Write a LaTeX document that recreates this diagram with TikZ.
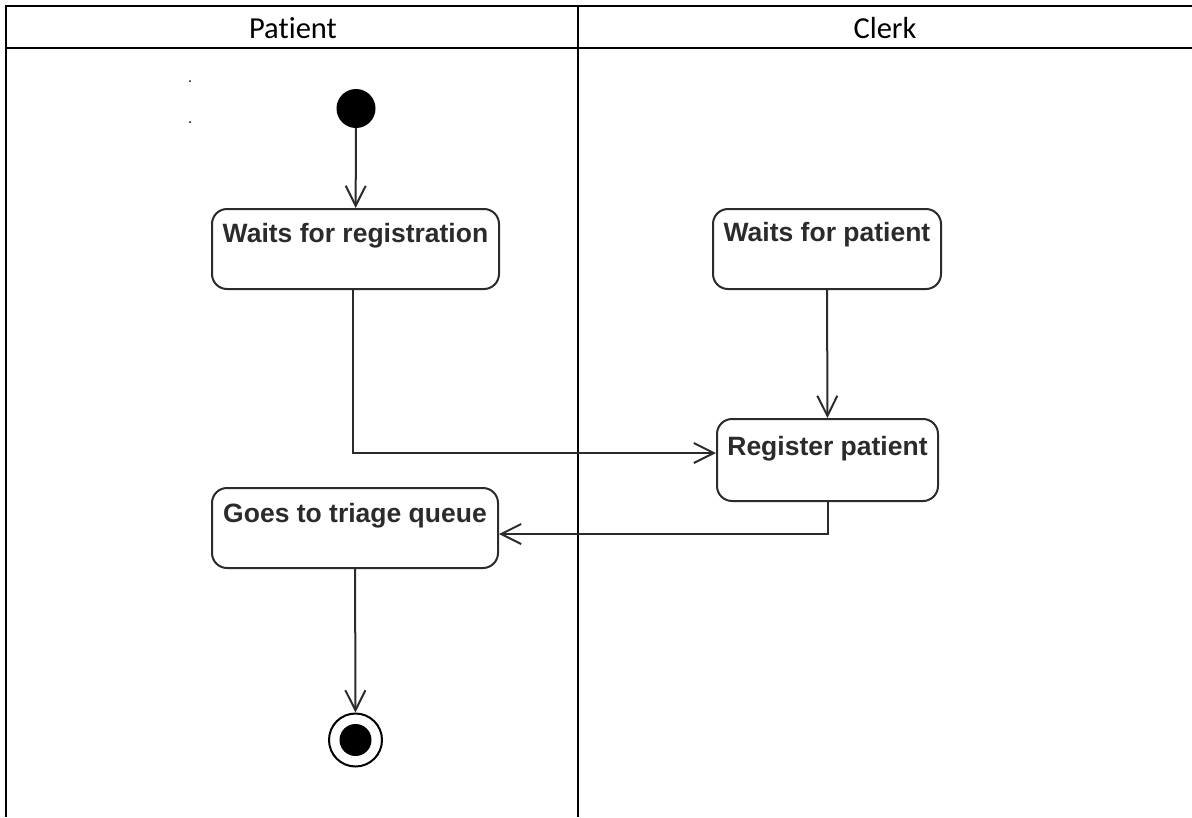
\documentclass[tikz,border=0pt]{standalone}
\usepackage{fontspec}
\setmainfont{Liberation Sans}
\newfontfamily\headfont[Ligatures=NoCommon]{Carlito}
\usetikzlibrary{arrows.meta}

\definecolor{ink}{HTML}{2B2B2B}

\tikzset{
  lane/.style={line width=2pt, black},
  header/.style={font=\headfont\fontsize{30.5}{34}\selectfont, anchor=base, inner sep=0pt},
  action/.style={draw=ink, line width=2pt, rounded corners=15pt, inner sep=0pt,
    text=ink, font=\bfseries\fontsize{26.5}{30}\selectfont, text depth=0pt},
  flow/.style={draw=ink, line width=2pt,
    -{Straight Barb[length=20pt, width=20pt, line width=2pt]}},
}

\begin{document}
\begin{tikzpicture}[x=1pt, y=-1pt]
  \useasboundingbox (0,0) rectangle (1192,817);

  % swimlane grid
  \draw[lane] (6,817) -- (6,6) -- (1192,6);
  \draw[lane] (6,48) -- (1192,48);
  \draw[lane] (578,6) -- (578,817);
  \node[header] (hp) at (293,38) {Patient};
  \node[header] (hc) at (885,38) {Clerk};

  % small stray marks in the patient lane
  \fill[black] (190,81) circle (1pt);
  \fill[black] (190,122) circle (1pt);

  % initial node
  \node[circle, fill=black, minimum size=39pt, inner sep=0pt] (start) at (356,108.5) {};

  % actions
  \node[action, minimum width=287pt, text height=33pt, text depth=47pt] (wfr) at (355.5,208) [anchor=north] {Waits for registration};
  \node[action, minimum width=228pt, text height=32pt, text depth=48pt] (wfp) at (827,208) [anchor=north] {Waits for patient};
  \node[action, minimum width=221pt, text height=36pt, text depth=46pt] (reg) at (827.5,418) [anchor=north] {Register patient};
  \node[action, minimum width=286pt, text height=34pt, text depth=46pt] (gtq) at (355,487) [anchor=north] {Goes to triage queue};

  % final node
  \node[circle, draw=black, line width=2pt, minimum size=53pt, inner sep=0pt] (final) at (355.5,740) {};
  \fill[black] (final.center) circle (16pt);

  % control flows
  \draw[flow] (start) -- (wfr);
  \draw[flow] (wfp) -- (reg);
  \draw[flow] ([xshift=-2.5pt]wfr.south) |- ([yshift=7pt]reg.west);
  \draw[flow] (reg.south) |- ([yshift=-6pt]gtq.east);
  \draw[flow] (gtq) -- (final);
\end{tikzpicture}
\end{document}
